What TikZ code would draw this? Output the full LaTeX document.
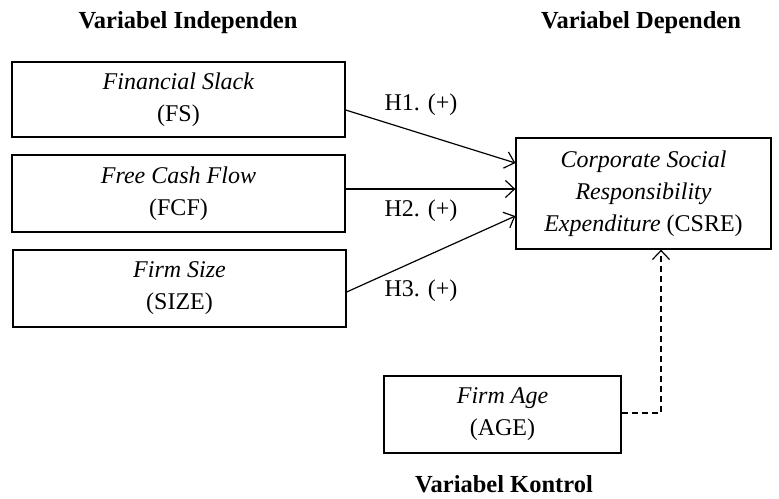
\documentclass[tikz,border=0pt]{standalone}
\usepackage{fontspec}
\setmainfont{Liberation Serif}
\usetikzlibrary{arrows.meta}
\begin{document}
\begin{tikzpicture}[x=1pt,y=-1pt,
  txt/.style={font=\fontsize{24}{32}\selectfont, align=center, inner sep=0pt},
  varbox/.style={txt, draw, line width=1.3pt, minimum height=77pt},
  title/.style={font=\fontsize{24.5}{28}\selectfont\bfseries, inner sep=0pt},
  hyp/.style={txt},
  link/.style={line width=1.2pt, -{Straight Barb[length=9pt,width=17pt,line width=1.2pt]}}
]
\useasboundingbox (0,0) rectangle (779,498);

% column headings
\node[title] (hind) at (188,23) {Variabel Independen};
\node[title] (hdep) at (641,23) {Variabel Dependen};
\node[title] (hkon) at (504,484) {Variabel Kontrol};

% independent variables
\node[varbox, minimum width=333pt, minimum height=75pt] (fs)  at (178.5,99.5) {\textit{Financial Slack}\\(FS)};
\node[varbox, minimum width=333pt] (fcf)  at (178.5,193.5) {\textit{Free Cash Flow}\\(FCF)};
\node[varbox, minimum width=333pt] (size) at (179.5,288.5) {\textit{Firm Size}\\(SIZE)};

% dependent variable
\node[varbox, minimum width=255pt, minimum height=111pt] (csre) at (643.5,193.5)
  {\textit{Corporate Social}\\\textit{Responsibility}\\\textit{Expenditure} (CSRE)};

% control variable
\node[varbox, minimum width=237pt] (age) at (502.5,414.5) {\textit{Firm Age}\\(AGE)};

% hypotheses
\draw[link] ([yshift=-10.5pt]fs.east) -- ([yshift=30.5pt]csre.west);
\draw[link] ([yshift=4.5pt]fcf.east) -- ([yshift=4.5pt]csre.west);
\draw[link] ([yshift=-3.5pt]size.east) -- ([yshift=-22.5pt]csre.west);

\node[hyp] (h1) at (421,105) {H1. (+)};
\node[hyp] (h2) at (421,211) {H2. (+)};
\node[hyp] (h3) at (421,291) {H3. (+)};

% control link
\draw[link, dash pattern=on 6pt off 4pt] ([yshift=1.5pt]age.east) -| ([xshift=17.5pt]csre.south);
\end{tikzpicture}
\end{document}
